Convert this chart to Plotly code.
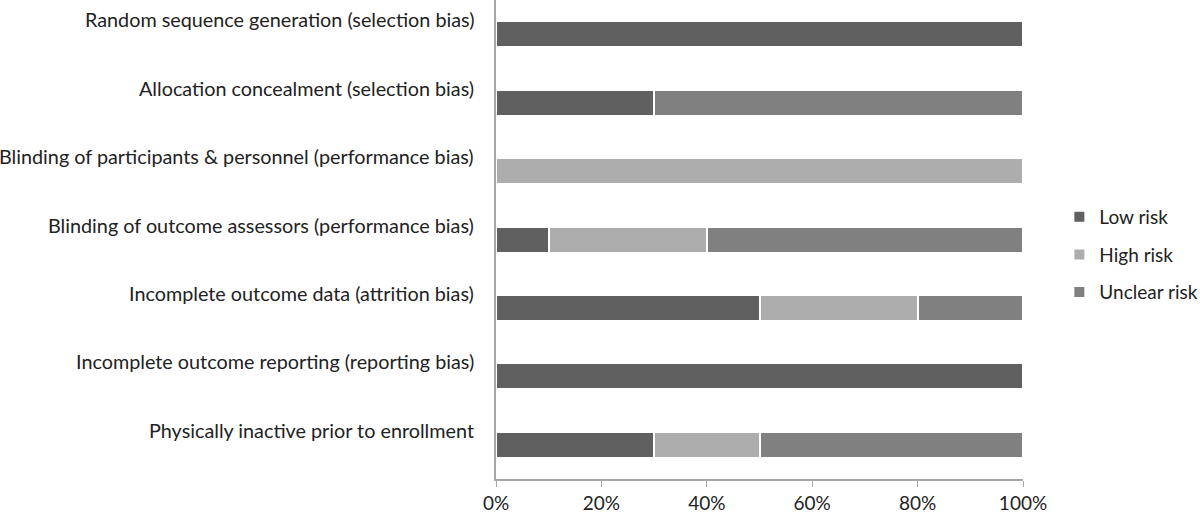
import plotly.graph_objects as go

# data
categories = [
    "Random sequence generation (selection bias)",
    "Allocation concealment (selection bias)",
    "Blinding of participants & personnel (performance bias)",
    "Blinding of outcome assessors (performance bias)",
    "Incomplete outcome data (attrition bias)",
    "Incomplete outcome reporting (reporting bias)",
    "Physically inactive prior to enrollment",
]
low_risk = [100, 30, 0, 10, 50, 100, 30]
high_risk = [0, 0, 100, 30, 30, 0, 20]
unclear_risk = [0, 70, 0, 60, 20, 0, 50]

series = [
    ("Low risk", low_risk, "#606060"),
    ("High risk", high_risk, "#adadad"),
    ("Unclear risk", unclear_risk, "#808080"),
]

FONT = "Lato"

fig = go.Figure()
for i, (name, vals, col) in enumerate(series):
    fig.add_trace(go.Bar(
        y=categories, x=vals, name=name, orientation="h",
        marker=dict(color=col, line=dict(color="white", width=2)),
        width=0.38, legendgroup=str(i),
    ))

#### category labels sit a bit above the bars
for c in categories:
    fig.add_annotation(
        x=0, xref="paper", y=c, yref="y", text=c, showarrow=False,
        xanchor="right", yanchor="middle", xshift=-20, yshift=15,
        font=dict(family=FONT, size=19.8, color="#222222"),
    )

fig.update_layout(
    barmode="stack",
    width=1200, height=515,
    margin=dict(l=496, r=177, t=0, b=36, autoexpand=False),
    plot_bgcolor="white", paper_bgcolor="white",
    font=dict(family=FONT, size=19, color="#222222"),
    legend=dict(
        x=1.069, y=0.468, xanchor="left", yanchor="middle",
        traceorder="grouped", tracegroupgap=10,
        font=dict(family=FONT, size=19, color="#222222"),
    ),
    showlegend=True,
)
fig.update_xaxes(
    range=[0, 100], tickvals=[0, 20, 40, 60, 80, 100],
    ticktext=["0%", "20%", "40%", "60%", "80%", "100%"],
    showgrid=False, zeroline=False,
    showline=True, linecolor="#a6a6a6", linewidth=2,
    ticks="outside", ticklen=6, tickcolor="#a6a6a6", tickwidth=1,
)
fig.update_yaxes(
    autorange="reversed", showticklabels=False, showgrid=False,
    showline=True, linecolor="#a6a6a6", linewidth=2, ticks="",
)

fig.write_html("out.html", config={"displayModeBar": False},
               post_script="document.body.style.margin='0';")
